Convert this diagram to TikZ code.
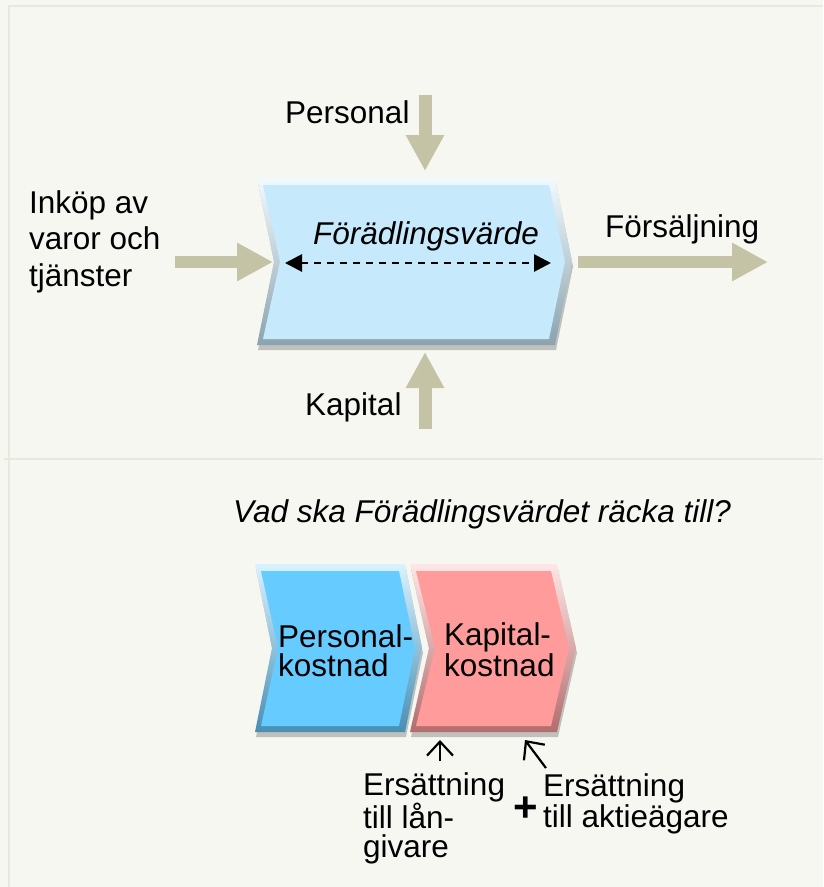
\documentclass[tikz,border=0pt]{standalone}
\usepackage{fontspec}
\setmainfont{Liberation Sans}
\usepackage{tikz}
\usetikzlibrary{arrows.meta,calc}

\definecolor{bgcol}{HTML}{F7F7F2}
\definecolor{framecol}{HTML}{EAE7DC}
\definecolor{arrowcol}{HTML}{C4C3A5}
\definecolor{palechev}{HTML}{C6E9FB}
\definecolor{bluechev}{HTML}{66CCFF}
\definecolor{redchev}{HTML}{FF9B9B}

\tikzset{
	>=latex,
	txt/.style={font=\fontsize{31.5}{36.5}\selectfont, inner sep=0pt, align=left},
	ersatt/.style={font=\fontsize{31.5}{28.5}\selectfont, inner sep=0pt, align=left},
	fatarrow/.style={arrowcol, line width=13pt, -{Triangle[length=36pt,width=36pt]}},
	spanarrow/.style={black, line width=2.8pt, dash pattern=on 7pt off 6pt,
		{Triangle[length=17pt,width=17pt]}-{Triangle[length=17pt,width=17pt]}},
	thinarrow/.style={black, line width=2.2pt, -{Straight Barb[length=14pt,width=26pt,line width=2.2pt]}}
}

% chevron: left, right, top, bottom, depth, colour
\newcommand{\drawchevron}[6]{%
	\pgfmathsetmacro{\chevy}{(#3+#4)/2}
	% shadow
	\fill[black,opacity=0.22,xshift=1pt,yshift=-5pt] (#1,#3) -- (#2,#3) -- ({#2+#5},\chevy)
		-- (#2,#4) -- (#1,#4) -- ({#1+#5},\chevy) -- cycle;
	% bevel
	\shade[top color=#6!25!white, middle color=#6!90!white, bottom color=#6!70!black]
		(#1,#3) -- (#2,#3) -- ({#2+#5},\chevy)
		-- (#2,#4) -- (#1,#4) -- ({#1+#5},\chevy) -- cycle;
	% face
	\fill[#6] ({#1+6},{#3+7}) -- ({#2-6},{#3+7}) -- ({#2+#5-7},\chevy)
		-- ({#2-6},{#4-6}) -- ({#1+6},{#4-6}) -- ({#1+#5+6},\chevy) -- cycle;
}

\begin{document}
\begin{tikzpicture}[x=1pt,y=-1pt]
	\useasboundingbox (0,0) rectangle (823,887);
	
	% background and frame
	\fill[bgcol] (0,0) rectangle (823,887);
	\draw[framecol,line width=2.5pt] (9,887) -- (9,6) -- (823,6);
	\draw[framecol,line width=2pt] (4,459) -- (823,459);
	
	% value chain box
	\drawchevron{257}{555}{178}{345}{17}{palechev}
	\node[txt,font=\fontsize{31.5}{36.5}\selectfont\itshape,anchor=base] (fvarde) at (426,244) {Förädlingsvärde};
	\coordinate (spanl) at (285,263);
	\coordinate (spanr) at (551,263);
	\draw[spanarrow] (spanl) -- (spanr);
	
	% inputs and output
	\node[txt,anchor=base west] (personal) at (285,123) {Personal};
	\coordinate (perstail) at (425,95);
	\coordinate (perstip) at (425,171);
	\draw[fatarrow] (perstail) -- (perstip);
	
	\node[txt,anchor=base west] (kapital) at (305,415) {Kapital};
	\coordinate (kaptail) at (425,429);
	\coordinate (kaptip) at (425,352);
	\draw[fatarrow] (kaptail) -- (kaptip);
	
	\node[txt,anchor=base west] (inkop) at (29,286) {Inköp av\\varor och\\tjänster};
	\coordinate (inktail) at (175,262);
	\coordinate (inktip) at (273,262);
	\draw[fatarrow,line width=12pt] (inktail) -- (inktip);
	
	\node[txt,anchor=base west] (forsalj) at (605,237) {Försäljning};
	\coordinate (fortail) at (578,262);
	\coordinate (fortip) at (768,262);
	\draw[fatarrow,line width=12pt] (fortail) -- (fortip);
	
	% question
	\node[txt,font=\fontsize{31.5}{36.5}\selectfont\itshape,anchor=base west] (fraga) at (233,522)
		{Vad ska Förädlingsvärdet räcka till?};
	
	% cost split
	\drawchevron{255}{405}{564}{732}{17}{bluechev}
	\drawchevron{410}{557}{564}{732}{19}{redchev}
	\node[ersatt,anchor=base west] (perskost) at (278,676) {Personal-\\kostnad};
	\node[ersatt,anchor=base west] (kapkost) at (444,676) {Kapital-\\kostnad};
	
	% compensation
	\node[ersatt,anchor=base west] (langiv) at (363,857) {Ersättning\\till lån-\\givare};
	\node[font=\fontsize{42}{42}\selectfont\bfseries,inner sep=0pt] (plus) at (526,809) {+};
	\node[ersatt,anchor=base west] (aktie) at (543,827) {Ersättning\\till aktieägare};
	\coordinate (lantail) at (440,761);
	\coordinate (lantip) at (440,740);
	\coordinate (aktail) at (546,768);
	\coordinate (aktip) at (525,740);
	\draw[thinarrow] (lantail) -- (lantip);
	\draw[thinarrow] (aktail) -- (aktip);
	
\end{tikzpicture}
\end{document}
